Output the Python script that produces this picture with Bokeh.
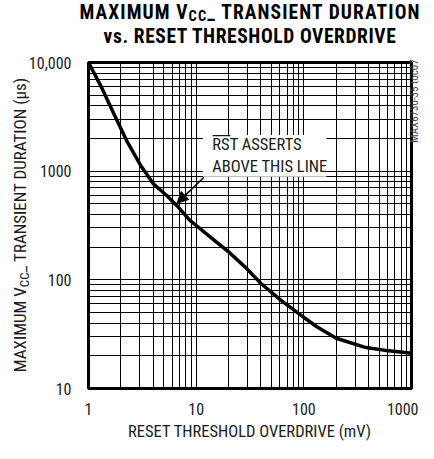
import math
from bokeh.plotting import figure
from bokeh.models import Label, BoxAnnotation, Arrow, NormalHead, FixedTicker, Div
from bokeh.layouts import column
from bokeh.embed import file_html
from bokeh.resources import INLINE

# ---- data ----
overdrive_mv = [1, 1.3, 1.75, 2.3, 3.05, 4, 5.3, 6.6, 8.7, 10.7, 13.2, 20, 28.5, 40, 61, 93, 132, 200, 377, 614, 1000]
duration_us = [10000, 6100, 3250, 1850, 1130, 765, 600, 484, 355, 300, 253, 181, 131, 92.5, 65, 47.5, 37, 29, 23.8, 22.2, 21.1]

x_ticks = [1, 10, 100, 1000]
x_tick_labels = ["1", "10", "100", "1000"]
y_ticks = [10, 100, 1000, 10000]
y_tick_labels = ["10", "100", "1000", "10,000"]

title_line1 = ["MAXIMUM V", "CC", "_ TRANSIENT DURATION"]
title_line2 = "vs. RESET THRESHOLD OVERDRIVE"
x_label = "RESET THRESHOLD OVERDRIVE (mV)"
y_label = ["MAXIMUM V", "CC", "_ TRANSIENT DURATION (µs)"]
note_lines = ["RST ASSERTS", "ABOVE THIS LINE"]
side_note = "MAX6730-35 toc07"

# ---- layout ----
W, H = 418, 443
FL, FT, FW, FH = 88, 62, 323, 326      # frame in canvas px
X0, X1, Y0, Y1 = 1, 1000, 10, 10000
FONT = "Roboto Condensed, DejaVu Sans Condensed, Liberation Sans Narrow, Roboto"
CSS_FONT = "'Roboto Condensed', 'DejaVu Sans Condensed', 'Liberation Sans Narrow', Roboto, sans-serif"
LX, LY = math.log10(X1 / X0), math.log10(Y1 / Y0)


def ref(rx, ry):
    """pixel of the reference's frame (90..420 x 70..398) -> data coordinates"""
    x = 10 ** (math.log10(X0) + (rx - 90) / 330 * LX)
    y = 10 ** (math.log10(Y1) - (ry - 70) / 328 * LY)
    return x, y


p = figure(width=W, height=H, x_axis_type="log", y_axis_type="log",
           x_range=(X0, X1), y_range=(Y0, Y1),
           output_backend="svg", toolbar_location=None,
           min_border_left=FL, min_border_right=W - FL - FW,
           min_border_top=FT, min_border_bottom=H - FT - FH)
p.background_fill_color = "white"
p.border_fill_color = "white"
p.outline_line_color = "black"
p.outline_line_width = 3

minor_x = [m * 10 ** k for k in range(3) for m in range(2, 10)]
minor_y = [m * 10 ** k for k in range(1, 4) for m in range(2, 10)]
p.xaxis.ticker = FixedTicker(ticks=x_ticks, minor_ticks=minor_x)
p.yaxis.ticker = FixedTicker(ticks=y_ticks, minor_ticks=minor_y)
p.xaxis.major_label_overrides = {t: s for t, s in zip(x_ticks, x_tick_labels)}
p.yaxis.major_label_overrides = {t: s for t, s in zip(y_ticks, y_tick_labels)}

for ax in (p.xaxis, p.yaxis):
    ax.axis_line_color = None
    ax.major_tick_line_color = None
    ax.minor_tick_line_color = None
    ax.major_tick_out = 0
    ax.major_tick_in = 0
    ax.minor_tick_out = 0
    ax.minor_tick_in = 0
    ax.major_label_text_font = FONT
    ax.major_label_text_font_size = "16px"
    ax.major_label_text_color = "#1a1a1a"
p.xaxis.major_label_standoff = 14
p.yaxis.major_label_standoff = 17

for g in (p.xgrid, p.ygrid):
    g.grid_line_color = "black"
    g.grid_line_width = 1
    g.grid_line_alpha = 1
    g.minor_grid_line_color = "black"
    g.minor_grid_line_width = 1
    g.minor_grid_line_alpha = 1

p.line(overdrive_mv, duration_us, line_color="black", line_width=3.5, line_join="round")

# annotation box (inside the frame)
bl, bt = ref(207, 143)
br, bb = ref(333, 185)
p.add_layout(BoxAnnotation(left=bl, right=br, top=bt, bottom=bb,
                           fill_color="white", fill_alpha=1, line_color=None))
for txt, ry in zip(note_lines, [152.7, 175]):
    x, y = ref(216.5, ry)
    p.add_layout(Label(x=x, y=y, text=txt, text_font=FONT, text_font_size="16.5px",
                       text_align="left", text_baseline="middle", text_color="#1a1a1a"))
ox0, oy = ref(216.7, 143.5)
ox1, _ = ref(235, 143.5)
p.add_layout(Arrow(x_start=ox0, y_start=oy, x_end=ox1, y_end=oy, end=None,
                   line_color="#1a1a1a", line_width=1.2))
ax0, ay0 = ref(208, 185.5)
ax1, ay1 = ref(180.5, 211.5)
p.add_layout(Arrow(x_start=ax0, y_start=ay0, x_end=ax1, y_end=ay1,
                   end=NormalHead(size=11, fill_color="black", line_color="black"),
                   line_color="black", line_width=1.5))


# ---- texts outside the frame: an HTML overlay (allows real subscripts) ----
def block(left, top, width, height, inner, size, weight="normal", rotate=False,
          color="#1a1a1a", extra=""):
    st = (f"position:absolute;left:{left}px;top:{top}px;width:{width}px;height:{height}px;"
          f"line-height:{height}px;font-family:{CSS_FONT};font-size:{size}px;font-weight:{weight};"
          f"color:{color};text-align:center;white-space:nowrap;{extra}")
    if rotate:
        st += "transform:rotate(-90deg);transform-origin:50% 50%;"
    return f'<div style="{st}">{inner}</div>'


def sub(t, size, shift):
    return f'<span style="font-size:{size}px;position:relative;top:{shift}px">{t}</span>'


t1 = title_line1[0] + sub(title_line1[1], 14.5, 2) + title_line1[2]
yl = y_label[0] + sub(y_label[1], 13, 3) + y_label[2]
L = 326
html = "".join([
    block(0, 4, 500, 17, t1, 19.5, "bold", color="black", extra="letter-spacing:1.1px;"),
    block(0, 28, 500, 17, title_line2, 19.5, "bold", color="black", extra="letter-spacing:0.6px;"),
    block(0, 424, 499, 16, x_label, 16.5),
    block(20 - L / 2, 225 - 12, L, 24, yl, 17, rotate=True),
    block(415 - 45, 101 - 6, 90, 12, side_note, 11, rotate=True, color="#444444"),
])
overlay = Div(text=html, width=W, height=0, margin=(0, 0, 0, 0),
              styles={"position": "relative", "z-index": "10", "overflow": "visible"})

layout = column(overlay, p, spacing=0)
open("out.html", "w").write(file_html(layout, INLINE))
